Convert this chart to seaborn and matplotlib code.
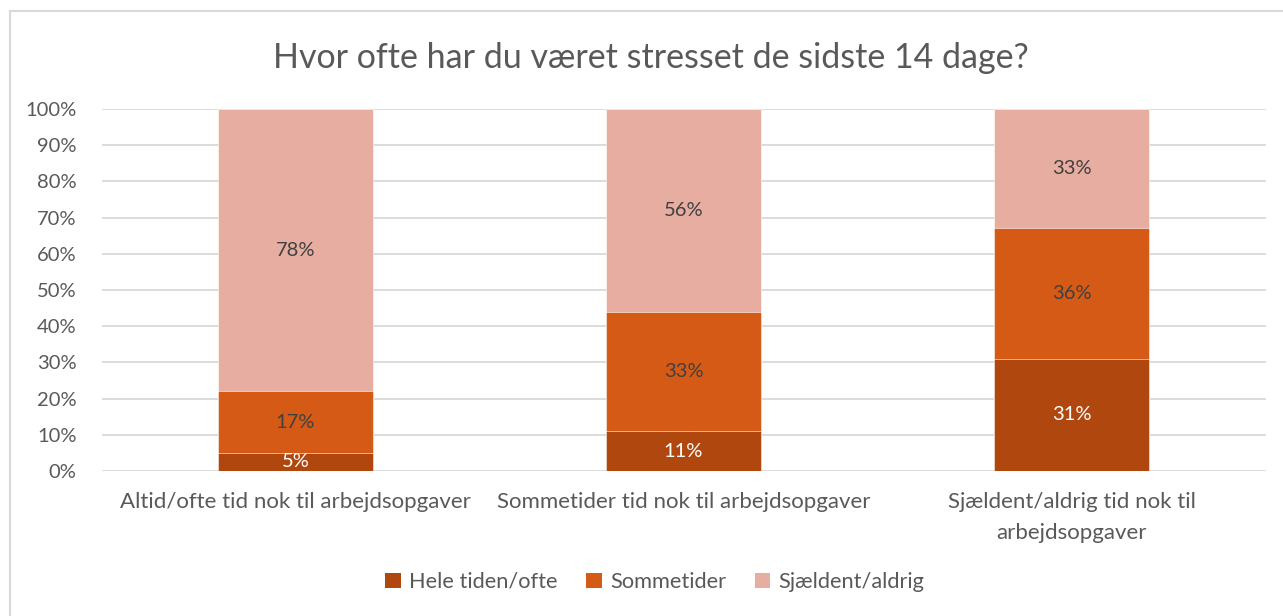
import numpy as np
import pandas as pd
import seaborn as sns
import matplotlib.pyplot as plt
from matplotlib.patches import Rectangle, Patch

categories = ["Altid/ofte tid nok til arbejdsopgaver",
              "Sommetider tid nok til arbejdsopgaver",
              "Sjældent/aldrig tid nok til\narbejdsopgaver"]
series = ["Hele tiden/ofte", "Sommetider", "Sjældent/aldrig"]
hele_tiden = [5, 11, 31]
sommetider = [17, 33, 36]
sjaeldent = [78, 56, 33]
colors = ["#B0470F", "#D55A16", "#E6ADA0"]
label_colors = ["white", "#404040", "#404040"]
yticks = [0, 10, 20, 30, 40, 50, 60, 70, 80, 90, 100]
title = "Hvor ofte har du været stresset de sidste 14 dage?"

sns.set_style("white")
plt.rcParams["font.family"] = ["Lato", "DejaVu Sans"]

vals = np.array([hele_tiden, sommetider, sjaeldent], dtype=float)
tops = vals.cumsum(axis=0)
df = pd.DataFrame({
    "kategori": np.tile(categories, 3),
    "serie": np.repeat(series, 3),
    "top": tops.ravel(),
    "vaerdi": vals.ravel(),
})

fig = plt.figure(figsize=(12.83, 6.16), dpi=100)
ax = fig.add_axes([101.5 / 1283, 145 / 616, 1164 / 1283, 362 / 616])

# stacked bars: draw cumulative heights from the top layer down
for i in [2, 1, 0]:
    d = df[df["serie"] == series[i]]
    sns.barplot(data=d, x="kategori", y="top", color=colors[i], width=0.4,
                saturation=1, order=categories, ax=ax, zorder=2 + (2 - i),
                edgecolor="white", linewidth=0.4)

for i in range(3):
    for j in range(3):
        y = tops[i, j] - vals[i, j] / 2
        ax.text(j, y, f"{vals[i, j]:.0f}%", ha="center", va="center",
                fontsize=14.5, color=label_colors[i], zorder=10)

ax.set_ylim(0, 100)
ax.set_xlim(-0.5, 2.5)
ax.set_yticks(yticks)
ax.set_yticklabels([f"{t}%" for t in yticks])
ax.yaxis.grid(True, color="#D9D9D9", linewidth=1.3, zorder=0)
ax.set_axisbelow(True)
for s in ax.spines.values():
    s.set_visible(False)
ax.tick_params(axis="both", length=0, colors="#595959")
ax.tick_params(axis="y", pad=18, labelsize=14.5)
ax.tick_params(axis="x", pad=15, labelsize=16)
ax.set_xlabel("")
ax.set_ylabel("")
for lab in ax.get_xticklabels():
    lab.set_linespacing(1.7)
    lab.set_multialignment("center")

fig.text(651 / 1283, 1 - 58 / 616, title, ha="center", va="center",
         fontsize=24.5, color="#595959")

handles = [Patch(facecolor=c, edgecolor="none") for c in colors]
fig.legend(handles, series, loc="center", bbox_to_anchor=(655 / 1283, 1 - 582 / 616),
           ncol=3, frameon=False, fontsize=15.7, labelcolor="#595959",
           handlelength=0.7, handleheight=0.7, handletextpad=0.4, columnspacing=1.3)

fig.patches.append(Rectangle((10 / 1283, -0.1), 1.2, 1 - 11 / 616 + 0.1,
                             transform=fig.transFigure, fill=False,
                             edgecolor="#D9D9D9", linewidth=1.5))

fig.savefig("out.png", dpi=100, facecolor="white")
